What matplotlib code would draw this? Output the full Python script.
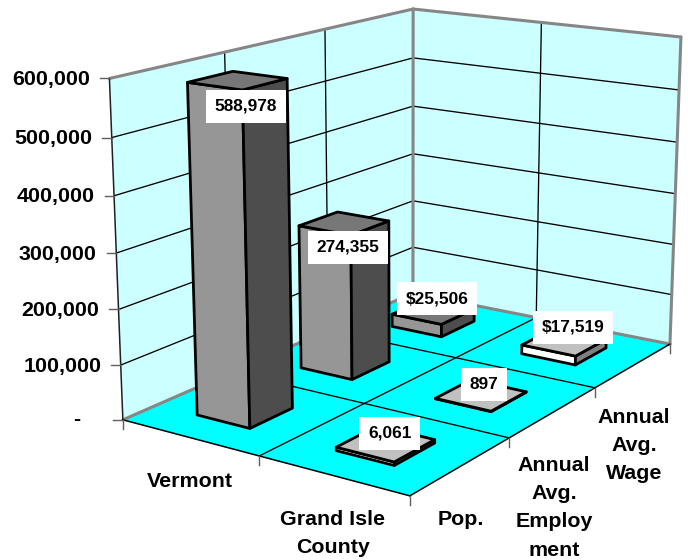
import numpy as np
import matplotlib
matplotlib.use("Agg")
import matplotlib.pyplot as plt
from matplotlib.patches import Polygon, Rectangle

plt.rcParams['font.family'] = ['Liberation Sans', 'DejaVu Sans']
plt.rcParams['font.weight'] = 'bold'

categories = ["Vermont", "Grand Isle\nCounty"]
series_names = ["Pop.", "Annual\nAvg.\nEmploy\nment", "Annual\nAvg.\nWage"]
vermont_values = [588978, 274355, 25506]
grand_isle_values = [6061, 897, 17519]
value_labels = [["588,978", "274,355", "$25,506"], ["6,061", "897", "$17,519"]]
value_ticks = [0, 100000, 200000, 300000, 400000, 500000, 600000]
tick_labels = ["-", "100,000", "200,000", "300,000", "400,000", "500,000", "600,000"]
ZMAX = 600000

# camera calibration: (category, series, value) box corners -> picture pixels
calib_world = [(0, 0, 0), (0, 0, ZMAX), (2, 0, 0), (2, 3, 0), (2, 3, ZMAX), (0, 3, 0), (0, 3, ZMAX),
               (1, 0, 0), (2, 1, 0), (2, 2, 0)]
calib_px = [(123, 419.5), (109.5, 78.5), (410, 496), (670, 345), (681, 37), (413, 293), (413, 9),
            (259, 457), (509, 437), (595, 387)]


def fit_camera(world, px):
    rows = []
    for (x, y, z), (u, v) in zip(world, px):
        z = z / ZMAX
        rows.append([x, y, z, 1, 0, 0, 0, 0, -u*x, -u*y, -u*z, -u])
        rows.append([0, 0, 0, 0, x, y, z, 1, -v*x, -v*y, -v*z, -v])
    return np.linalg.svd(np.array(rows, float))[2][-1].reshape(3, 4)


CAM = fit_camera(calib_world, calib_px)


def proj(x, y, z):
    p = CAM @ np.array([x, y, z / ZMAX, 1.0])
    return p[0] / p[2], p[1] / p[2]


fig = plt.figure(figsize=(6.88, 5.6), dpi=100)
ax = fig.add_axes([0, 0, 1, 1])
ax.set_xlim(0, 688)
ax.set_ylim(560, 0)
ax.axis('off')


def poly(pts, fc, ec='none', lw=0, z=1):
    ax.add_patch(Polygon([proj(*p) for p in pts], closed=True, facecolor=fc, edgecolor=ec,
                         linewidth=lw, zorder=z, joinstyle='round'))


def line(a, b, color='black', lw=1.0, z=2):
    pa, pb = proj(*a), proj(*b)
    ax.plot([pa[0], pb[0]], [pa[1], pb[1]], color=color, lw=lw, zorder=z, solid_capstyle='round')


nx, ny = len(categories), len(series_names)
# walls and floor
poly([(0, 0, 0), (0, ny, 0), (0, ny, ZMAX), (0, 0, ZMAX)], '#CCFFFF')
poly([(0, ny, 0), (nx, ny, 0), (nx, ny, ZMAX), (0, ny, ZMAX)], '#CCFFFF')
poly([(0, 0, 0), (nx, 0, 0), (nx, ny, 0), (0, ny, 0)], '#00FFFF')

# gridlines
for t in value_ticks[1:-1]:
    line((0, 0, t), (0, ny, t), lw=0.95)
    line((0, ny, t), (nx, ny, t), lw=0.95)
for j in range(1, ny):
    line((0, j, 0), (0, j, ZMAX), lw=0.95)
    line((0, j, 0), (nx, j, 0), lw=0.95)
for i in range(1, nx):
    line((i, ny, 0), (i, ny, ZMAX), lw=0.95)
    line((i, 0, 0), (i, ny, 0), lw=0.95)

# wall borders
GR = '#868686'
line((0, ny, 0), (0, ny, ZMAX), GR, 2.2, 3)
line((0, 0, ZMAX), (0, ny, ZMAX), GR, 2.2, 3)
line((0, ny, ZMAX), (nx, ny, ZMAX), GR, 2.2, 3)
line((nx, ny, 0), (nx, ny, ZMAX), GR, 2.2, 3)
line((0, 0, 0), (0, ny, 0), GR, 2.2, 3)
line((0, ny, 0), (nx, ny, 0), GR, 2.2, 3)
# axes
line((0, 0, 0), (0, 0, ZMAX), '#202020', 1.1, 3)
line((0, 0, 0), (nx, 0, 0), 'black', 1.1, 3)
line((nx, 0, 0), (nx, ny, 0), 'black', 1.1, 3)

# ticks
FS = 15.4
TICKC = '#606060'
for t, lab in zip(value_ticks, tick_labels):
    px, py = proj(0, 0, t)
    ax.plot([px - 9.5, px], [py, py], color=TICKC, lw=1, zorder=3)
    if lab == "-":
        ax.text(77, py, lab, ha='center', va='center', fontsize=FS, fontweight='bold')
    else:
        ax.text(px - 19.5, py + 6.7, lab, ha='right', va='baseline', fontsize=FS, fontweight='bold')
for i in range(nx + 1):
    px, py = proj(i, 0, 0)
    ax.plot([px, px], [py, py + 9], color=TICKC, lw=1, zorder=3)
for j in range(1, ny + 1):
    px, py = proj(nx, j, 0)
    ax.plot([px, px], [py, py + 9], color=TICKC, lw=1, zorder=3)

# bars
WX, WY = 0.39, 0.40
STYLE = [dict(front='#969696', side='#4D4D4D', top='#777777'),
         dict(front='#FFFFFF', side='#808080', top='#C0C0C0')]
values = [vermont_values, grand_isle_values]
EC, LW = 'black', 2.0
order = 10
for j in reversed(range(ny)):
    for i in range(nx):
        v = values[i][j]
        x0, x1 = i + .5 - WX / 2, i + .5 + WX / 2
        y0, y1 = j + .5 - WY / 2, j + .5 + WY / 2
        s = STYLE[i]
        poly([(x0, y0, 0), (x1, y0, 0), (x1, y0, v), (x0, y0, v)], s['front'], EC, LW, order)
        poly([(x1, y0, 0), (x1, y1, 0), (x1, y1, v), (x1, y0, v)], s['side'], EC, LW, order)
        poly([(x0, y0, v), (x1, y0, v), (x1, y1, v), (x0, y1, v)], s['top'], EC, LW, order)
        order += 1

# data labels: offset of box centre from bar-top centre, pixels
LABEL_OFFSET = [[(8, 26), (4, 24), (4, -13)], [(4, -10), (3, -11), (9, -15)]]
LABEL_W = [[80, 80, 80], [61, 46, 80]]
for i in range(nx):
    for j in range(ny):
        cx, cy = proj(i + .5, j + .5, values[i][j])
        dx, dy = LABEL_OFFSET[i][j]
        cx += dx
        cy += dy
        w, h = LABEL_W[i][j], 33
        ax.add_patch(Rectangle((cx - w / 2, cy - h / 2), w, h, fc='white', ec='none', zorder=30))
        ax.text(cx, cy, value_labels[i][j], ha='center', va='center', fontsize=12.4,
                fontweight='bold', zorder=31)


def stacked(lab, x, first_baseline, pitch=28.2):
    for k, part in enumerate(lab.split("\n")):
        ax.text(x, first_baseline + k * pitch, part, ha='center', va='baseline',
                fontsize=FS, fontweight='bold')


# category / series labels: centre x and first baseline
cat_pos = [(190, 487), (333, 525)]
for lab, (x, y) in zip(categories, cat_pos):
    stacked(lab, x, y)
ser_pos = [(461, 525), (554, 471), (634, 423)]
for lab, (x, y) in zip(series_names, ser_pos):
    stacked(lab, x, y)

fig.savefig('out.png', dpi=100)
